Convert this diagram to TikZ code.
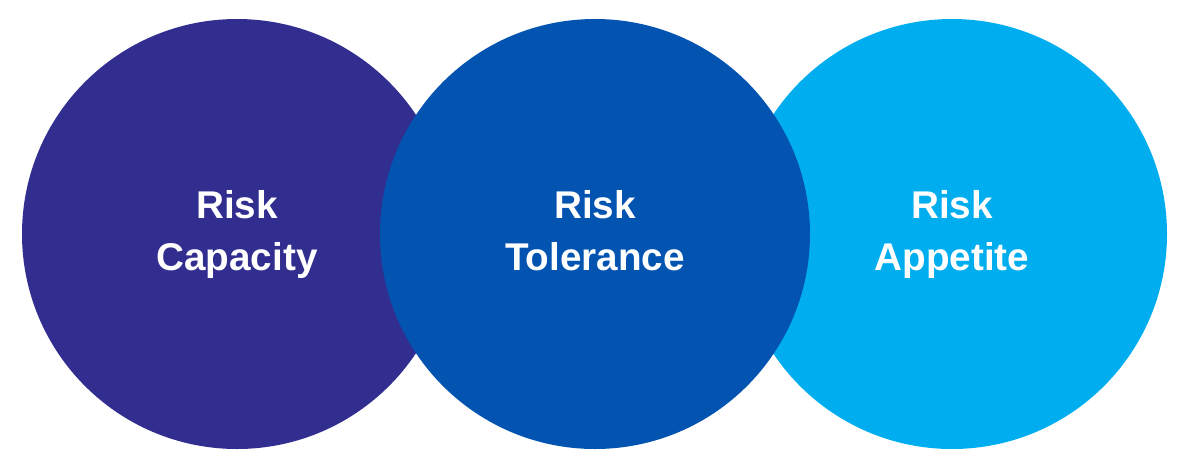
\documentclass[tikz,border=0pt]{standalone}
\usepackage{fontspec}
\setmainfont{Liberation Sans}
\usepackage{tikz}
\usetikzlibrary{positioning}
\definecolor{capacityblue}{RGB}{49,46,143}
\definecolor{toleranceblue}{RGB}{3,83,177}
\definecolor{appetiteblue}{RGB}{0,174,239}

\begin{document}
\begin{tikzpicture}[x=0.75pt, y=-0.75pt,
		disc/.style={circle, inner sep=0pt, minimum size=322.5pt, text=white, align=center,
			font=\fontsize{29}{39}\selectfont\bfseries, execute at end node={\vphantom{p}}}]
			\useasboundingbox (0,0) rectangle (1189,469);
			\node[disc, fill=capacityblue] (0) at (237,234) {Risk\\Capacity};
			\node[disc, fill=appetiteblue] (2) at (952,234) {Risk\\Appetite};
			\node[disc, fill=toleranceblue] (1) at (595,234) {Risk\\Tolerance};
		\end{tikzpicture}
\end{document}
